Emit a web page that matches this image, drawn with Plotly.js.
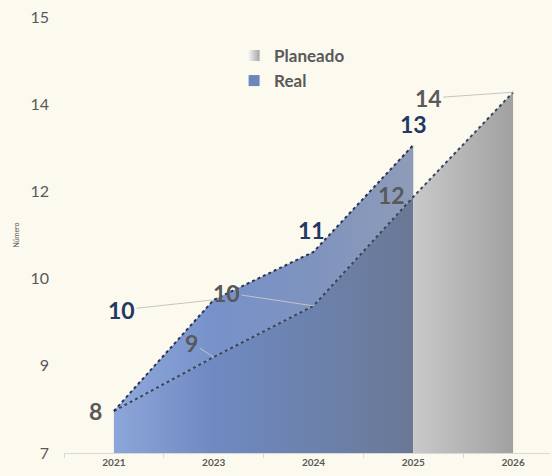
<!DOCTYPE html>
<html>
<head>
<meta charset="utf-8">
<script src="https://cdn.plot.ly/plotly-3.0.1.min.js"></script>
<style>html,body{margin:0;padding:0;background:#FCFAEE;}#chart{width:552px;height:476px;}</style>
</head>
<body>
<div id="chart"></div>
<script>
// ---- data ----
const years = ['2021', '2023', '2024', '2025', '2026'];
const planeado = [7.77, 8.76, 9.70, 11.70, 13.62];
const real = [7.77, 9.81, 10.69, 12.65];
const yTickVals = [7, 8.6, 10.2, 11.8, 13.4, 15];
const yTickText = ['7', '9', '10', '12', '14', '15'];
const seriesNames = ['Planeado', 'Real'];

const nReal = real.length;
const FONT = 'Lato, "Open Sans", sans-serif';
const GREY = '#595959';
const NAVY = '#1F3864';

const traces = [
  {
    x: years.slice(0, nReal), y: planeado.slice(0, nReal),
    type: 'scatter', mode: 'lines', fill: 'tozeroy', line: {width: 0},
    fillgradient: {type: 'horizontal', colorscale: [[0, '#8DA6D9'], [0.33, '#6F8AC2'], [0.66, '#6C82AD'], [1, '#6A7894']]},
    showlegend: false, hoverinfo: 'skip'
  },
  {
    x: years.slice(0, nReal), y: real,
    type: 'scatter', mode: 'lines', fill: 'tonexty', line: {width: 0},
    fillgradient: {type: 'horizontal', colorscale: [[0, '#8FA9DC'], [0.33, '#7792CA'], [0.66, '#7E93BE'], [1, '#8F9CB8']]},
    showlegend: false, hoverinfo: 'skip'
  },
  {
    x: years.slice(nReal - 1), y: planeado.slice(nReal - 1),
    type: 'scatter', mode: 'lines', fill: 'tozeroy', line: {width: 0},
    fillgradient: {type: 'horizontal', colorscale: [[0, '#C9C9C9'], [1, '#A1A1A1']]},
    showlegend: false, hoverinfo: 'skip'
  },
  {
    x: years, y: planeado, type: 'scatter', mode: 'lines',
    line: {color: '#3B465E', width: 2, dash: 'dot'}, showlegend: false
  },
  {
    x: years.slice(0, nReal), y: real, type: 'scatter', mode: 'lines',
    line: {color: '#2A3550', width: 2, dash: 'dot'}, showlegend: false
  },
  {
    x: [null], y: [null], type: 'scatter', mode: 'markers', name: seriesNames[0],
    marker: {symbol: 'square', size: 11, color: '#F4F4F4', gradient: {type: 'horizontal', color: '#A6A6A6'}}
  },
  {
    x: [null], y: [null], type: 'scatter', mode: 'markers', name: seriesNames[1],
    marker: {symbol: 'square', size: 11, color: '#6C86BC'}
  }
];

// label placement styles (pixel offsets)
const planStyle = [
  {xshift: -18, yshift: 0},
  {ax: -22, ay: -14},
  {ax: -87, ay: -13},
  {xshift: -22, yshift: 2},
  {ax: -85, ay: 6}
];
const realStyle = [
  null,
  {ax: -92, ay: 10},
  {xshift: -2, yshift: 22},
  {xshift: 0, yshift: 21}
];

function makeAnn(i, y, style, color) {
  const a = {
    x: i, y: y, xref: 'x', yref: 'y', text: String(Math.round(y)),
    font: {family: FONT, size: 23, color: color, weight: 'bold'}
  };
  if (style.ax !== undefined) {
    Object.assign(a, {showarrow: true, ax: style.ax, ay: style.ay, arrowhead: 0,
      arrowwidth: 1, arrowcolor: '#C4C4C4', standoff: 0, startstandoff: 0});
  } else {
    Object.assign(a, {showarrow: false, xshift: style.xshift, yshift: style.yshift});
  }
  return a;
}

const annotations = [];
planeado.forEach((v, i) => annotations.push(makeAnn(i, v, planStyle[i], GREY)));
real.forEach((v, i) => { if (realStyle[i]) annotations.push(makeAnn(i, v, realStyle[i], NAVY)); });

const layout = {
  width: 552, height: 476,
  margin: {l: 64, r: 2, t: 17, b: 23},
  paper_bgcolor: '#FCFAEE', plot_bgcolor: '#FCFAEE',
  font: {family: FONT, color: GREY},
  showlegend: true,
  legend: {
    x: 0.35, y: 0.952, xanchor: 'left', yanchor: 'top', traceorder: 'normal',
    bgcolor: 'rgba(0,0,0,0)', itemwidth: 30, tracegroupgap: 0,
    font: {family: FONT, size: 17, color: GREY, weight: 'bold'}
  },
  xaxis: {
    type: 'category', categoryorder: 'array', categoryarray: years,
    range: [-0.5, 4.37], showgrid: false, zeroline: false,
    showline: true, linecolor: '#D9D9D9', linewidth: 1,
    ticks: 'outside', tickson: 'boundaries', ticklen: 4, tickcolor: '#D9D9D9',
    tickfont: {family: FONT, size: 10, color: GREY, weight: 'bold'}
  },
  yaxis: {
    range: [7, 15], showgrid: false, zeroline: false, showline: false,
    tickvals: yTickVals, ticktext: yTickText, ticks: '', ticklabelstandoff: 14,
    tickfont: {family: FONT, size: 16, color: GREY},
    title: {text: 'Número', font: {family: FONT, size: 7, color: GREY}, standoff: 9}
  },
  annotations: annotations
};

Plotly.newPlot('chart', traces, layout, {displayModeBar: false, staticPlot: true});
</script>
</body>
</html>
